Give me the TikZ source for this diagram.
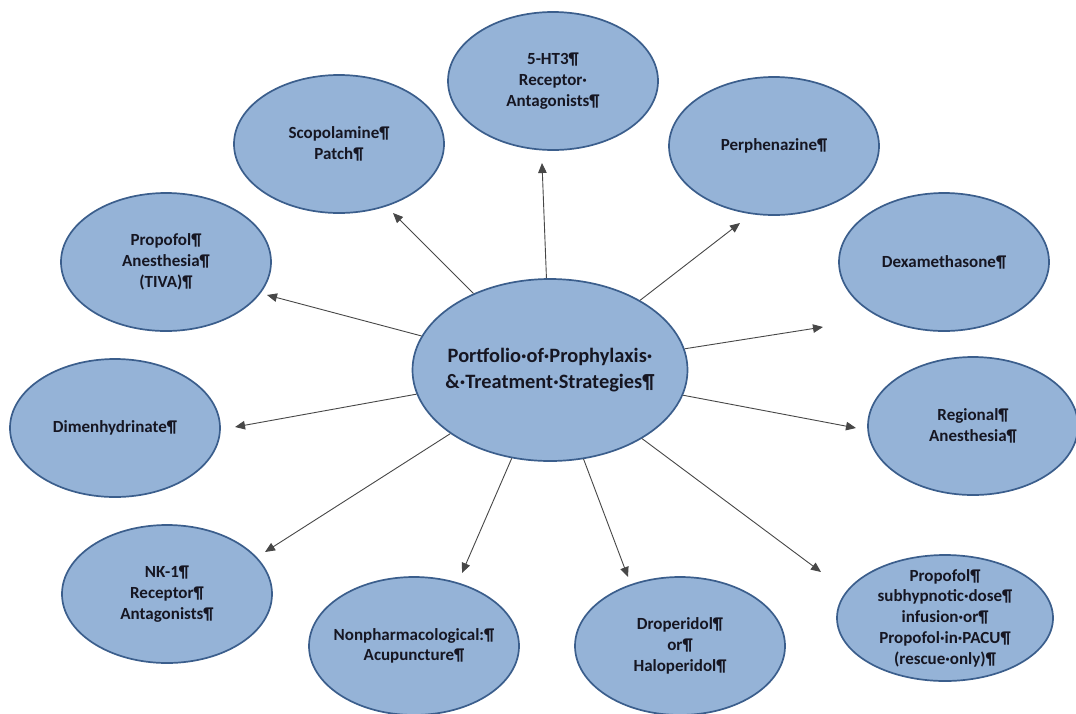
\documentclass[tikz,border=0pt]{standalone}
\usepackage{fontspec}
\setmainfont{Carlito}
\usetikzlibrary{arrows.meta,shapes.geometric}
\definecolor{ellfill}{HTML}{95B3D7}
\definecolor{elldraw}{HTML}{3B5E8C}
\definecolor{txt}{HTML}{161622}
\tikzset{
  bubble/.style={ellipse, draw=elldraw, line width=1.7pt, fill=ellfill,
    minimum width=210pt, minimum height=138pt, inner xsep=-16pt, inner ysep=-6pt,
    align=center, font=\fontsize{17}{20.7}\selectfont\bfseries, text=txt},
  hub/.style={bubble, minimum width=275pt, minimum height=182pt, inner xsep=-12pt,
    font=\fontsize{20.4}{25.5}\selectfont\bfseries},
  link/.style={draw=black!72, line width=0.9pt,
    -{Triangle[length=10pt,width=8.5pt]}}
}
\begin{document}
\begin{tikzpicture}[x=1pt,y=-1pt]
\useasboundingbox (0,0) rectangle (1076,713);
\fill[white] (0,0) rectangle (1076,713);
\node[hub] (c) at (550,370) {Portfolio·of·Prophylaxis·\\\&·Treatment·Strategies¶};
\node[bubble] (ht3) at (553,81) {5-HT3¶\\Receptor·\\Antagonists¶};
\node[bubble] (scop) at (339,144) {Scopolamine¶\\Patch¶};
\node[bubble] (perph) at (774,146) {Perphenazine¶};
\node[bubble] (dexa) at (944,262) {Dexamethasone¶};
\node[bubble] (tiva) at (166,262) {Propofol¶\\Anesthesia¶\\(TIVA)¶};
\node[bubble] (dimen) at (115,428) {Dimenhydrinate¶};
\node[bubble] (regio) at (973,426) {Regional¶\\Anesthesia¶};
\node[bubble] (nk1) at (167,594) {NK-1¶\\Receptor¶\\Antagonists¶};
\node[bubble] (nonph) at (414,646) {Nonpharmacological:¶\\Acupuncture¶};
\node[bubble] (drop) at (680,646) {Droperidol¶\\or¶\\Haloperidol¶};
\node[bubble, minimum width=216pt, minimum height=126pt, inner ysep=-8pt] (psub) at (945,618)
  {Propofol¶\\subhypnotic·dose¶\\infusion·or¶\\Propofol·in·PACU¶\\(rescue·only)¶};
\coordinate (t1) at (542,163);
\coordinate (t2) at (393,213);
\coordinate (t3) at (740,223);
\coordinate (t4) at (823,327);
\coordinate (t5) at (267,295);
\coordinate (t6) at (235,427);
\coordinate (t7) at (856,428);
\coordinate (t8) at (265,552);
\coordinate (t9) at (462,573);
\coordinate (t10) at (628,577);
\coordinate (t11) at (821,572);
\foreach \t in {t1,t2,t3,t4,t5,t6,t7,t8,t9,t10,t11}
  \draw[link] (c) -- (\t);
\end{tikzpicture}
\end{document}
